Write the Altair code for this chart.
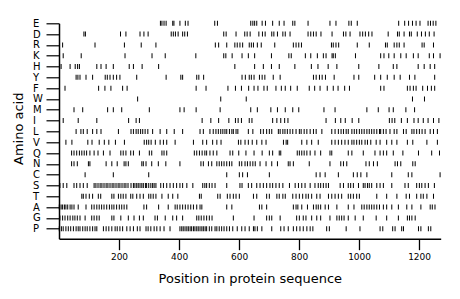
import altair as alt
import pandas as pd

AMINO_ACIDS = ["E", "D", "R", "K", "H", "Y", "F", "W", "M", "I",
               "L", "V", "Q", "N", "C", "S", "T", "A", "G", "P"]

POS_E = [338, 343, 350, 357, 379, 383, 403, 421, 430, 519, 528, 639, 646, 652, 659, 677, 688, 712,
         734, 750, 779, 786, 830, 903, 923, 966, 974, 994, 1132, 1152, 1165, 1178, 1190, 1203, 1230,
         1238, 1247, 1256]
POS_D = [83, 88, 205, 223, 270, 283, 297, 374, 381, 388, 397, 412, 419, 428, 549, 557, 590, 619, 627,
         637, 666, 678, 687, 709, 716, 728, 746, 754, 770, 830, 839, 848, 857, 873, 910, 948, 956, 970,
         1003, 1012, 1021, 1032, 1043, 1097, 1128, 1134, 1150, 1168, 1174, 1194, 1208, 1221, 1234, 1250]
POS_R = [12, 120, 218, 274, 323, 521, 532, 559, 586, 594, 603, 612, 634, 641, 648, 661, 674, 719, 781,
         790, 799, 808, 908, 914, 923, 932, 994, 1034, 1088, 1094, 1117, 1126, 1134, 1150, 1210, 1217,
         1248]
POS_K = [14, 74, 220, 310, 354, 456, 549, 556, 577, 610, 631, 652, 708, 766, 774, 821, 839, 861, 881,
         890, 910, 914, 921, 988, 1072, 1083, 1099, 1117, 1139, 1157, 1181, 1197, 1234, 1248, 1270]
POS_H = [7, 37, 54, 62, 68, 126, 140, 157, 181, 234, 248, 277, 332, 586, 652, 681, 708, 734, 786, 841,
         863, 897, 926, 999, 1066, 1114, 1126, 1197, 1217, 1237, 1252]
POS_Y = [57, 63, 70, 90, 112, 154, 161, 170, 181, 192, 203, 259, 357, 406, 412, 459, 466, 482, 610,
         621, 634, 641, 650, 668, 677, 686, 714, 737, 848, 857, 868, 877, 888, 917, 983, 999, 1052,
         1072, 1094, 1117, 1137, 1168, 1186, 1252]
POS_F = [20, 132, 153, 173, 212, 227, 457, 490, 563, 588, 608, 632, 650, 663, 683, 694, 723, 741, 754,
         772, 794, 834, 852, 870, 894, 914, 930, 952, 968, 1072, 1083, 1161, 1170, 1181, 1190, 1212,
         1228, 1241, 1252]
POS_W = [262, 539, 624, 1178, 1218]
POS_M = [50, 79, 162, 181, 209, 301, 403, 417, 457, 537, 639, 661, 706, 728, 754, 779, 799, 883, 920,
         1026, 1064, 1100, 1114, 1156, 1185]
POS_I = [14, 64, 126, 232, 257, 268, 477, 506, 532, 566, 588, 597, 608, 634, 643, 712, 726, 739, 752,
         763, 890, 921, 939, 954, 977, 999, 1101, 1110, 1119, 1141, 1161, 1183, 1197, 1214, 1230, 1248,
         1266]
POS_L = [57, 73, 81, 94, 112, 126, 140, 198, 240, 248, 257, 264, 272, 279, 287, 296, 312, 337, 359,
         384, 412, 470, 481, 503, 514, 523, 531, 539, 546, 553, 559, 568, 576, 581, 590, 596, 631, 646,
         672, 681, 692, 701, 709, 731, 737, 746, 753, 761, 770, 779, 790, 801, 807, 817, 826, 837, 848,
         857, 876, 909, 920, 931, 940, 948, 957, 964, 976, 984, 992, 1001, 1009, 1017, 1026, 1034, 1042,
         1050, 1059, 1068, 1072, 1081, 1090, 1103, 1117, 1126, 1148, 1157, 1176, 1183, 1192, 1201, 1210,
         1220, 1237, 1248, 1261]
POS_V = [23, 43, 96, 110, 134, 151, 166, 188, 218, 284, 292, 299, 307, 321, 337, 348, 359, 387, 448,
         479, 492, 512, 526, 540, 598, 606, 620, 631, 644, 659, 676, 690, 748, 757, 762, 809, 826, 842,
         864, 909, 920, 931, 942, 953, 964, 976, 983, 992, 1001, 1009, 1020, 1028, 1039, 1057, 1070,
         1092, 1109, 1126, 1161, 1179, 1226, 1261]
POS_Q = [42, 50, 59, 68, 76, 84, 92, 103, 117, 130, 148, 170, 206, 214, 223, 239, 248, 268, 301, 309,
         343, 350, 359, 451, 459, 468, 477, 486, 492, 503, 514, 526, 570, 579, 599, 623, 650, 677, 701,
         712, 734, 739, 794, 801, 809, 817, 826, 837, 853, 872, 903, 909, 964, 976, 1014, 1053, 1070,
         1081, 1092, 1114, 1146, 1198, 1242, 1268]
POS_N = [42, 50, 61, 98, 103, 157, 176, 194, 217, 223, 231, 276, 281, 290, 309, 331, 356, 403, 473,
         481, 498, 509, 526, 534, 542, 550, 559, 568, 576, 601, 609, 620, 628, 637, 646, 654, 670, 690,
         709, 728, 764, 770, 781, 834, 903, 939, 948, 959, 1023, 1034, 1048, 1061, 1120, 1128, 1139,
         1179, 1187]
POS_C = [87, 181, 299, 559, 601, 612, 628, 701, 857, 870, 887, 931, 981, 994, 1006, 1026, 1109, 1164,
         1176, 1270]
POS_S = [3, 14, 26, 50, 59, 70, 81, 94, 117, 123, 130, 137, 143, 150, 157, 163, 170, 177, 183, 190,
         197, 203, 210, 217, 223, 230, 240, 248, 253, 259, 264, 270, 276, 281, 288, 292, 299, 306, 312,
         317, 323, 339, 348, 359, 370, 381, 392, 403, 412, 426, 446, 479, 486, 492, 501, 510, 520, 559,
         603, 610, 631, 642, 659, 670, 681, 692, 703, 712, 723, 734, 746, 768, 787, 798, 809, 820, 837,
         853, 864, 872, 881, 890, 898, 937, 948, 964, 972, 981, 998, 1014, 1020, 1028, 1034, 1042, 1059,
         1070, 1081, 1109, 1153, 1164, 1192, 1201, 1209, 1220, 1231, 1251]
POS_T = [76, 81, 90, 101, 112, 131, 139, 176, 183, 198, 206, 214, 223, 239, 246, 259, 270, 281, 299,
         306, 314, 323, 343, 364, 379, 396, 468, 474, 529, 537, 561, 570, 581, 590, 601, 648, 659, 692,
         701, 726, 734, 746, 754, 779, 790, 801, 812, 823, 831, 842, 859, 870, 898, 909, 920, 931, 942,
         964, 972, 981, 992, 1001, 1059, 1092, 1126, 1157, 1168, 1192, 1206, 1214, 1226, 1248]
POS_A = [1, 7, 12, 18, 23, 29, 37, 43, 50, 64, 90, 109, 117, 126, 134, 142, 150, 159, 168, 176, 183,
         192, 201, 209, 217, 226, 283, 292, 332, 364, 387, 394, 403, 412, 421, 430, 439, 448, 459, 470,
         476, 559, 576, 668, 676, 692, 781, 790, 796, 809, 828, 848, 857, 864, 872, 887, 898, 926, 964,
         983, 1009, 1017, 1026, 1034, 1042, 1050, 1059, 1068, 1081, 1092, 1109, 1131, 1159, 1176, 1206,
         1237, 1244, 1253]
POS_G = [3, 12, 20, 29, 37, 46, 53, 61, 70, 87, 109, 117, 126, 134, 176, 183, 206, 231, 250, 268, 281,
         320, 328, 354, 379, 392, 412, 459, 466, 474, 483, 492, 501, 510, 581, 650, 692, 701, 709, 737,
         792, 801, 814, 823, 842, 859, 872, 903, 926, 934, 942, 950, 964, 987, 1014, 1057, 1092, 1131,
         1161, 1168, 1176, 1187]
POS_P = [1, 8, 14, 23, 31, 39, 48, 57, 64, 70, 79, 87, 94, 103, 112, 120, 126, 148, 157, 166, 176, 187,
         194, 203, 212, 226, 237, 248, 261, 270, 290, 297, 306, 317, 326, 337, 350, 370, 403, 409, 414,
         420, 426, 431, 437, 442, 448, 453, 459, 464, 470, 476, 481, 487, 492, 501, 509, 520, 526, 534,
         542, 550, 559, 568, 579, 594, 609, 620, 634, 648, 653, 661, 676, 709, 739, 750, 764, 781, 792,
         803, 814, 826, 837, 846, 892, 901, 957, 1003, 1070, 1079, 1112, 1120, 1142, 1148, 1198, 1206,
         1231, 1239]

X_TICKS = [200, 400, 600, 800, 1000, 1200]
X_MAX = 1272

series = {
    "E": POS_E, "D": POS_D, "R": POS_R, "K": POS_K, "H": POS_H, "Y": POS_Y, "F": POS_F,
    "W": POS_W, "M": POS_M, "I": POS_I, "L": POS_L, "V": POS_V, "Q": POS_Q, "N": POS_N,
    "C": POS_C, "S": POS_S, "T": POS_T, "A": POS_A, "G": POS_G, "P": POS_P,
}
rows = [{"aa": aa, "pos": p} for aa, vals in series.items() for p in vals]
df = pd.DataFrame(rows)

FONT = "DejaVu Sans"

chart = alt.Chart(df).mark_tick(
    color="#000000", thickness=1, size=5, opacity=1
).encode(
    x=alt.X(
        "pos:Q",
        scale=alt.Scale(domain=[0, X_MAX], nice=False, zero=False),
        axis=alt.Axis(
            values=X_TICKS, format="d", grid=False, domainColor="#000000", domainWidth=1.5,
            tickColor="#000000", tickWidth=1.3, tickSize=11, labelFont=FONT,
            labelFontSize=9, labelColor="#000000", labelPadding=3,
            title="Position in protein sequence", titleFont=FONT, titleFontSize=13,
            titleFontWeight="normal", titleColor="#000000", titleBaseline="alphabetic",
            titleY=44,
        ),
    ),
    y=alt.Y(
        "aa:N",
        sort=AMINO_ACIDS,
        scale=alt.Scale(type="point", domain=AMINO_ACIDS, padding=0.4625, align=0),
        axis=alt.Axis(
            grid=False, domainColor="#000000", domainWidth=1.5, tickColor="#000000",
            tickWidth=1.2, tickSize=13, labelFont=FONT, labelFontSize=10,
            labelColor="#000000", labelAlign="left", labelPadding=13.5, labelOverlap=False,
            title="Amino acid", titleFont=FONT, titleFontSize=13, titleFontWeight="normal",
            titleColor="#000000", titleAngle=270, titleAlign="center",
            titleBaseline="alphabetic", titleX=-37, titleY=105,
        ),
    ),
).properties(
    width=381.7,
    height=215.4,
    autosize="none",
    padding={"left": 51, "top": 15.3, "right": 11, "bottom": 52},
).configure_view(strokeWidth=0)

chart.save("out.html", embed_options={"renderer": "svg", "actions": False})
